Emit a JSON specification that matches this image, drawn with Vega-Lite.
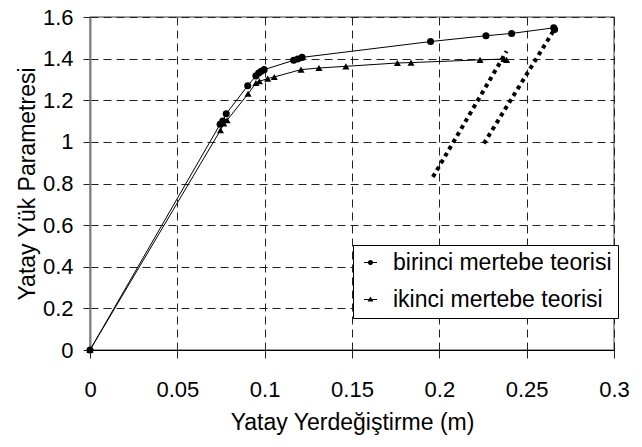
{
  "$schema": "https://vega.github.io/schema/vega-lite/v6.json",
  "width": 524,
  "height": 333,
  "autosize": {"type": "none"},
  "padding": {"left": 90, "top": 17, "right": 28, "bottom": 97},
  "background": "white",
  "config": {
    "font": "Liberation Sans",
    "view": {"stroke": "#808080", "strokeWidth": 1.5},
    "axis": {
      "labelFont": "Liberation Sans",
      "titleFont": "Liberation Sans",
      "labelFontSize": 22,
      "titleFontSize": 23,
      "titleFontWeight": "normal",
      "labelColor": "black",
      "titleColor": "black",
      "gridColor": "#222",
      "gridDash": [8, 5],
      "gridWidth": 1,
      "tickColor": "#222"
    },
    "legend": {"labelFont": "Liberation Sans"}
  },
  "datasets": {
    "main": [
      {"x": 0, "y": 0, "s": "birinci mertebe teorisi"},
      {"x": 0.0745, "y": 1.085, "s": "birinci mertebe teorisi"},
      {"x": 0.076, "y": 1.1, "s": "birinci mertebe teorisi"},
      {"x": 0.078, "y": 1.135, "s": "birinci mertebe teorisi"},
      {"x": 0.0903, "y": 1.27, "s": "birinci mertebe teorisi"},
      {"x": 0.095, "y": 1.317, "s": "birinci mertebe teorisi"},
      {"x": 0.0966, "y": 1.331, "s": "birinci mertebe teorisi"},
      {"x": 0.098, "y": 1.339, "s": "birinci mertebe teorisi"},
      {"x": 0.0997, "y": 1.347, "s": "birinci mertebe teorisi"},
      {"x": 0.1166, "y": 1.392, "s": "birinci mertebe teorisi"},
      {"x": 0.1189, "y": 1.398, "s": "birinci mertebe teorisi"},
      {"x": 0.1214, "y": 1.406, "s": "birinci mertebe teorisi"},
      {"x": 0.195, "y": 1.482, "s": "birinci mertebe teorisi"},
      {"x": 0.2267, "y": 1.51, "s": "birinci mertebe teorisi"},
      {"x": 0.2414, "y": 1.521, "s": "birinci mertebe teorisi"},
      {"x": 0.2655, "y": 1.548, "s": "birinci mertebe teorisi"},
      {"x": 0.266, "y": 1.54, "s": "birinci mertebe teorisi"},
      {"x": 0, "y": 0, "s": "ikinci mertebe teorisi"},
      {"x": 0.0747, "y": 1.056, "s": "ikinci mertebe teorisi"},
      {"x": 0.0766, "y": 1.088, "s": "ikinci mertebe teorisi"},
      {"x": 0.0785, "y": 1.104, "s": "ikinci mertebe teorisi"},
      {"x": 0.0905, "y": 1.231, "s": "ikinci mertebe teorisi"},
      {"x": 0.095, "y": 1.283, "s": "ikinci mertebe teorisi"},
      {"x": 0.097, "y": 1.291, "s": "ikinci mertebe teorisi"},
      {"x": 0.1017, "y": 1.304, "s": "ikinci mertebe teorisi"},
      {"x": 0.1055, "y": 1.312, "s": "ikinci mertebe teorisi"},
      {"x": 0.1208, "y": 1.347, "s": "ikinci mertebe teorisi"},
      {"x": 0.1311, "y": 1.355, "s": "ikinci mertebe teorisi"},
      {"x": 0.1465, "y": 1.363, "s": "ikinci mertebe teorisi"},
      {"x": 0.176, "y": 1.379, "s": "ikinci mertebe teorisi"},
      {"x": 0.1838, "y": 1.381, "s": "ikinci mertebe teorisi"},
      {"x": 0.2233, "y": 1.394, "s": "ikinci mertebe teorisi"},
      {"x": 0.237, "y": 1.398, "s": "ikinci mertebe teorisi"},
      {"x": 0.2385, "y": 1.394, "s": "ikinci mertebe teorisi"}
    ],
    "dotted": [
      {"x": 0.1963, "y": 0.831, "g": "d1"},
      {"x": 0.2385, "y": 1.435, "g": "d1"},
      {"x": 0.2255, "y": 0.992, "g": "d2"},
      {"x": 0.266, "y": 1.542, "g": "d2"}
    ]
  },
  "encoding": {
    "x": {
      "field": "x",
      "type": "quantitative",
      "scale": {"domain": [0, 0.3], "nice": false},
      "axis": {
        "title": "Yatay Yerdeğiştirme (m)",
        "values": [0, 0.05, 0.1, 0.15, 0.2, 0.25, 0.3],
        "format": "~g",
        "domainColor": "black",
        "domainWidth": 1,
        "tickSize": 8,
        "labelPadding": 21,
        "titlePadding": 11,
        "labelFlush": false
      }
    },
    "y": {
      "field": "y",
      "type": "quantitative",
      "scale": {"domain": [0, 1.6], "nice": false},
      "axis": {
        "title": "Yatay Yük Parametresi",
        "values": [0, 0.2, 0.4, 0.6, 0.8, 1, 1.2, 1.4, 1.6],
        "format": "~g",
        "domainColor": "#808080",
        "domainWidth": 2,
        "tickSize": 7,
        "labelPadding": 10,
        "titlePadding": 3,
        "labelFlush": false
      }
    }
  },
  "layer": [
    {
      "data": {"name": "main"},
      "mark": {"type": "line", "color": "black", "strokeWidth": 1},
      "encoding": {"detail": {"field": "s"}}
    },
    {
      "data": {"name": "dotted"},
      "mark": {"type": "line", "color": "black", "strokeWidth": 4, "strokeDash": [4, 4], "strokeCap": "butt"},
      "encoding": {"detail": {"field": "g"}}
    },
    {
      "data": {"name": "main"},
      "transform": [{"filter": "datum.s == 'birinci mertebe teorisi'"}],
      "mark": {"type": "point", "filled": true, "color": "black", "opacity": 1, "size": 50, "shape": "circle"}
    },
    {
      "data": {"name": "main"},
      "transform": [{"filter": "datum.s == 'ikinci mertebe teorisi'"}],
      "mark": {"type": "point", "filled": true, "color": "black", "opacity": 1, "size": 50, "shape": "triangle-up"}
    },
    {
      "data": {"name": "main"},
      "mark": {"type": "point", "filled": true, "color": "black", "size": 0},
      "encoding": {
        "shape": {
          "field": "s",
          "type": "nominal",
          "scale": {
            "domain": ["birinci mertebe teorisi", "ikinci mertebe teorisi"],
            "range": [
              "M-1,-0.08H1V0.08H-1ZM0.4,0A0.4,0.4 0 1,1 -0.4,0A0.4,0.4 0 1,1 0.4,0Z",
              "M-1,-0.08H1V0.08H-1ZM0,-0.48L0.45,0.32L-0.45,0.32Z"
            ]
          },
          "legend": {
            "title": null,
            "orient": "none",
            "legendX": 263,
            "legendY": 228,
            "strokeColor": "black",
            "fillColor": "white",
            "padding": 6,
            "rowPadding": 13,
            "labelFontSize": 23,
            "labelColor": "black",
            "labelOffset": 11,
            "labelLimit": 0,
            "symbolSize": 169,
            "symbolFillColor": "black",
            "symbolStrokeColor": "black",
            "symbolStrokeWidth": 0,
            "symbolOpacity": 1
          }
        }
      }
    }
  ]
}
